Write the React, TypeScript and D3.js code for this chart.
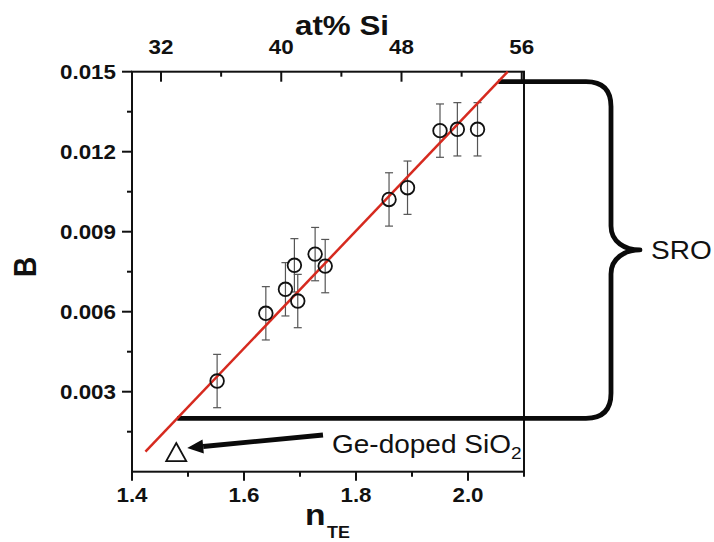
import React from "react";
import * as d3 from "d3";

// ---- data ----
const nTE = [1.552, 1.639, 1.674, 1.69, 1.696, 1.727, 1.745, 1.859, 1.892, 1.95, 1.981, 2.017];
const Bvals = [0.0034, 0.00594, 0.00684, 0.00774, 0.0064, 0.00816, 0.00771, 0.01021, 0.01065, 0.01279, 0.01284, 0.01284];
const Berr = [0.001, 0.001, 0.001, 0.001, 0.001, 0.001, 0.001, 0.001, 0.001, 0.001, 0.001, 0.001];
const geDopedN = [1.479];
const geDopedB = [0.0007];
const fitN = [1.424, 2.071];
const fitB = [0.00075, 0.015];
const xTicks = [1.4, 1.6, 1.8, 2.0];
const xMinor = [1.5, 1.7, 1.9, 2.1];
const yTicks = [0.003, 0.006, 0.009, 0.012, 0.015];
const yMinor = [0.0015, 0.0045, 0.0075, 0.0105, 0.0135];
const topTicks = [32, 40, 48, 56];
const topMinor = [36, 44, 52];
const sroRange = [0.002, 0.01463];

const W = 714;
const H = 542;
const L = 132, R = 524, T = 71.7, B = 471.7;
const FONT = "'Liberation Sans', Arial, Helvetica, sans-serif";
const SX = 1.12; // horizontal stretch of the scanned text
const RED = "#d62a1f";

function SText({ x, y, anchor = "start", size, weight = "normal", children }: any) {
  return (
    <text
      transform={`translate(${x},${y}) scale(${SX},1)`}
      textAnchor={anchor}
      fontFamily={FONT}
      fontSize={size}
      fontWeight={weight}
      fill="#111"
    >
      {children}
    </text>
  );
}

export default function App() {
  const x = d3.scaleLinear().domain([1.4, 2.1]).range([L, R]);
  const y = d3.scaleLinear().domain([0, 0.015]).range([B, T]);
  const top = d3.scaleLinear().domain([30.07, 56.15]).range([L, R]);

  const fitPath = d3
    .line<number>()
    .x((_, i) => x(fitN[i]))
    .y((_, i) => y(fitB[i]))(fitN) as string;

  // SRO bracket
  const yTop = y(sroRange[1]);
  const yBot = y(sroRange[0]);
  const yMid = (yTop + yBot) / 2;
  const xStartTop = x(fitN[0] + ((sroRange[1] - fitB[0]) / (fitB[1] - fitB[0])) * (fitN[1] - fitN[0]));
  const xStartBot = x(fitN[0] + ((sroRange[0] - fitB[0]) / (fitB[1] - fitB[0])) * (fitN[1] - fitN[0]));
  const bx = 611, rr = 25, tipX = 640;
  const bracket = [
    `M${xStartTop},${yTop}`,
    `L${bx - rr},${yTop}`,
    `Q${bx},${yTop} ${bx},${yTop + rr}`,
    `L${bx},${yMid - 24}`,
    `C${bx},${yMid - 8} ${tipX - 15},${yMid} ${tipX},${yMid}`,
    `C${tipX - 15},${yMid} ${bx},${yMid + 8} ${bx},${yMid + 24}`,
    `L${bx},${yBot - rr}`,
    `Q${bx},${yBot} ${bx - rr},${yBot}`,
    `L${xStartBot},${yBot}`,
  ].join(" ");

  // Ge-doped triangle
  const tx = x(geDopedN[0]);
  const ty = y(geDopedB[0]);
  const tri = `M${tx},${ty - 10} L${tx + 10},${ty + 8} L${tx - 10},${ty + 8} Z`;

  // arrow
  const ax1 = 323, ay1 = 435, ax2 = tx + 11, ay2 = ty - 5;
  const ang = Math.atan2(ay2 - ay1, ax2 - ax1);
  const hl = 16, hw = 7;
  const bxh = ax2 - hl * Math.cos(ang), byh = ay2 - hl * Math.sin(ang);
  const head = `M${ax2},${ay2} L${bxh + hw * Math.sin(ang)},${byh - hw * Math.cos(ang)} L${bxh - hw * Math.sin(ang)},${byh + hw * Math.cos(ang)} Z`;

  return (
    <svg
      width={W}
      height={H}
      viewBox={`0 0 ${W} ${H}`}
      style={{ position: "absolute", left: 0, top: 0, background: "#fff" }}
    >
      <rect x={0} y={0} width={W} height={H} fill="#fff" />

      {/* frame */}
      <rect x={L} y={T} width={R - L} height={B - T} fill="none" stroke="#111" strokeWidth={2} />

      {/* bottom ticks */}
      {xTicks.map((t) => (
        <g key={"xt" + t}>
          <line x1={x(t)} x2={x(t)} y1={B} y2={B + 9} stroke="#111" strokeWidth={2} />
          <SText x={x(t)} y={502} anchor="middle" size={20} weight="bold">
            {d3.format(".1f")(t)}
          </SText>
        </g>
      ))}
      {xMinor.map((t) => (
        <line key={"xm" + t} x1={x(t)} x2={x(t)} y1={B} y2={B + 5} stroke="#111" strokeWidth={2} />
      ))}

      {/* left ticks */}
      {yTicks.map((t) => (
        <g key={"yt" + t}>
          <line x1={L - 10} x2={L} y1={y(t)} y2={y(t)} stroke="#111" strokeWidth={2} />
          <SText x={116} y={y(t) + 7} anchor="end" size={20} weight="bold">
            {d3.format(".3f")(t)}
          </SText>
        </g>
      ))}
      {yMinor.map((t) => (
        <line key={"ym" + t} x1={L - 5} x2={L} y1={y(t)} y2={y(t)} stroke="#111" strokeWidth={2} />
      ))}

      {/* top ticks (inward) */}
      {topTicks.map((t) => (
        <g key={"tt" + t}>
          <line x1={top(t)} x2={top(t)} y1={T} y2={T + 10} stroke="#111" strokeWidth={2} />
          <SText x={top(t)} y={54} anchor="middle" size={20} weight="bold">
            {t}
          </SText>
        </g>
      ))}
      {topMinor.map((t) => (
        <line key={"tm" + t} x1={top(t)} x2={top(t)} y1={T} y2={T + 5} stroke="#111" strokeWidth={2} />
      ))}

      {/* axis titles */}
      <SText x={342} y={35} anchor="middle" size={28} weight="bold">
        at% Si
      </SText>
      <text
        transform={`translate(36,267) rotate(-90) scale(1,${SX})`}
        textAnchor="middle"
        fontFamily={FONT}
        fontSize={28}
        fontWeight="bold"
        fill="#111"
      >
        B
      </text>
      <SText x={305} y={525} size={30} weight="bold">
        n
      </SText>
      <SText x={327} y={538} size={16} weight="bold">
        TE
      </SText>

      {/* error bars */}
      {nTE.map((n, i) => {
        const cx = x(n);
        const y1 = y(Bvals[i] + Berr[i]);
        const y2 = y(Bvals[i] - Berr[i]);
        return (
          <g key={"e" + i} stroke="#555" strokeWidth={1.2}>
            <line x1={cx} x2={cx} y1={y1} y2={y2} />
            <line x1={cx - 4} x2={cx + 4} y1={y1} y2={y1} />
            <line x1={cx - 4} x2={cx + 4} y1={y2} y2={y2} />
          </g>
        );
      })}

      {/* bracket */}
      <path d={bracket} fill="none" stroke="#0a0a0a" strokeWidth={4.8} strokeLinejoin="round" />

      {/* fit line */}
      <path d={fitPath} fill="none" stroke={RED} strokeWidth={2.5} />

      {/* points */}
      {nTE.map((n, i) => (
        <circle
          key={"p" + i}
          cx={x(n)}
          cy={y(Bvals[i])}
          r={6.8}
          fill="none"
          stroke="#111"
          strokeWidth={1.8}
        />
      ))}

      {/* Ge-doped SiO2 */}
      <path d={tri} fill="none" stroke="#111" strokeWidth={1.8} />
      <line x1={ax1} y1={ay1} x2={bxh} y2={byh} stroke="#0a0a0a" strokeWidth={4.8} />
      <path d={head} fill="#0a0a0a" />
      <SText x={332} y={453} size={25}>
        Ge-doped SiO<tspan fontSize={17} dy={6}>2</tspan>
      </SText>

      {/* SRO label */}
      <SText x={651} y={259} size={25}>
        SRO
      </SText>
    </svg>
  );
}
